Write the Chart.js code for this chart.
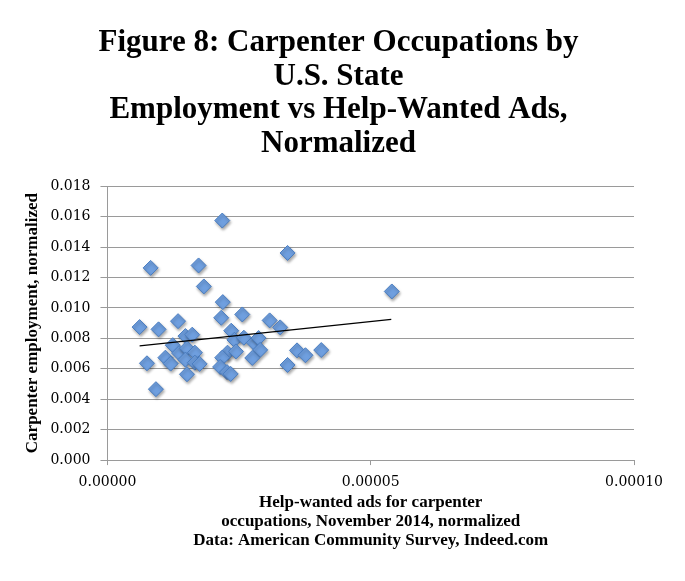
<!DOCTYPE html>
<html>
<head>
<meta charset="utf-8">
<title>Figure 8: Carpenter Occupations by U.S. State</title>
<script src="https://cdn.jsdelivr.net/npm/chart.js@4.4.0/dist/chart.umd.min.js"></script>
<style>
    html, body { margin: 0; padding: 0; background: #ffffff; }
    #wrap { position: relative; width: 685px; height: 581px; }
</style>
</head>
<body>
<div id="wrap"><canvas id="scatter-chart" width="685" height="581"></canvas></div>
<script>
// Help-wanted ads per state (normalized)
const adsNormalized = [
    6.1e-6, 7.5e-6, 8.2e-6, 9.2e-6, 9.7e-6,
    1.10e-5, 1.20e-5, 1.24e-5, 1.34e-5, 1.36e-5,
    1.48e-5, 1.61e-5, 1.51e-5, 1.66e-5, 1.48e-5,
    1.66e-5, 1.75e-5, 1.51e-5, 1.73e-5, 1.83e-5,
    2.18e-5, 2.19e-5, 2.16e-5, 2.56e-5, 2.35e-5,
    2.41e-5, 2.59e-5, 2.28e-5, 2.44e-5, 2.18e-5,
    2.14e-5, 2.27e-5, 2.34e-5, 2.78e-5, 2.87e-5,
    2.90e-5, 2.75e-5, 3.08e-5, 3.28e-5, 3.42e-5,
    3.42e-5, 3.60e-5, 3.76e-5, 4.06e-5, 5.40e-5
];

// Carpenter employment per state (normalized)
const employmentNormalized = [
    0.00874, 0.00636, 0.01263, 0.00466, 0.00859,
    0.00673, 0.00634, 0.00755, 0.00913, 0.00703,
    0.00815, 0.00824, 0.00735, 0.00706, 0.00660,
    0.00640, 0.00632, 0.00564, 0.01279, 0.01141,
    0.01574, 0.01038, 0.00935, 0.00957, 0.00850,
    0.00790, 0.00804, 0.00706, 0.00714, 0.00673,
    0.00612, 0.00578, 0.00566, 0.00771, 0.00802,
    0.00724, 0.00671, 0.00918, 0.00872, 0.01361,
    0.00625, 0.00721, 0.00689, 0.00723, 0.01108
];

// Linear trendline end points as drawn
const trendX = [6.1e-6, 5.39e-5];
const trendY = [0.00750, 0.00925];

// Axis ranges / tick steps
const xTickStep = 0.00005;
const xMax = 0.0001;
const yTickStep = 0.002;
const yMax = 0.018;

const titleLines = [
    'Figure 8: Carpenter Occupations by',
    'U.S. State',
    'Employment vs Help-Wanted Ads,',
    'Normalized'
];
const xTitleLines = [
    'Help-wanted ads for carpenter',
    'occupations, November 2014, normalized',
    'Data: American Community Survey, Indeed.com'
];
const yTitle = 'Carpenter employment, normalized';

const COLORS = {
    marker: '#6f9fdf',
    markerBorder: '#4a7dc0',
    trend: '#000000',
    grid: '#9a9a9a',
    text: '#000000'
};

const SERIF = "'Liberation Serif', 'DejaVu Serif', serif";
const TICK_FONT = { family: "'DejaVu Serif', serif", size: 14 };

// soft drop shadow under the diamonds, like the original
const markerShadow = {
    id: 'markerShadow',
    beforeDatasetDraw(chart, args) {
        if (args.index !== 1) return;
        const c = chart.ctx;
        c.save();
        c.shadowColor = 'rgba(0,0,0,0.35)';
        c.shadowBlur = 3;
        c.shadowOffsetX = 1;
        c.shadowOffsetY = 2;
    },
    afterDatasetDraw(chart, args) {
        if (args.index !== 1) return;
        chart.ctx.restore();
    }
};

const points = adsNormalized.map((x, i) => ({ x: x, y: employmentNormalized[i] }));
const trend = trendX.map((x, i) => ({ x: x, y: trendY[i] }));

new Chart(document.getElementById('scatter-chart').getContext('2d'), {
    type: 'scatter',
    data: {
        datasets: [
            {
                label: 'Trend',
                type: 'line',
                data: trend,
                borderColor: COLORS.trend,
                borderWidth: 1.2,
                pointRadius: 0,
                fill: false,
                order: 0
            },
            {
                label: 'States',
                data: points,
                pointStyle: 'rectRot',
                pointRadius: 7.5,
                pointBackgroundColor: COLORS.marker,
                pointBorderColor: COLORS.markerBorder,
                pointBorderWidth: 1,
                order: 1
            }
        ]
    },
    options: {
        responsive: false,
        animation: false,
        devicePixelRatio: 1,
        layout: {
            padding: { left: 22, right: 30, top: 6, bottom: 31 }
        },
        plugins: {
            legend: { display: false },
            tooltip: { enabled: false },
            title: {
                display: true,
                text: titleLines,
                color: COLORS.text,
                font: { family: SERIF, size: 31, weight: 'bold', lineHeight: 1.09 },
                padding: { top: 20, bottom: 25 }
            }
        },
        scales: {
            x: {
                type: 'linear',
                min: 0,
                max: xMax,
                grid: {
                    drawOnChartArea: false,
                    drawTicks: true,
                    tickLength: 5,
                    color: COLORS.grid
                },
                border: { color: COLORS.grid },
                ticks: {
                    stepSize: xTickStep,
                    color: COLORS.text,
                    font: TICK_FONT,
                    padding: 9,
                    maxRotation: 0,
                    callback: v => v.toFixed(5)
                },
                title: {
                    display: true,
                    text: xTitleLines,
                    color: COLORS.text,
                    font: { family: SERIF, size: 17, weight: 'bold', lineHeight: 1.12 },
                    padding: { top: -7, bottom: 0 }
                }
            },
            y: {
                min: 0,
                max: yMax,
                grid: {
                    drawTicks: true,
                    tickLength: 7,
                    color: COLORS.grid
                },
                border: { color: COLORS.grid },
                ticks: {
                    stepSize: yTickStep,
                    color: COLORS.text,
                    font: TICK_FONT,
                    padding: 10,
                    callback: v => v.toFixed(3)
                },
                title: {
                    display: true,
                    text: yTitle,
                    color: COLORS.text,
                    font: { family: SERIF, size: 17, weight: 'bold', lineHeight: 1.2 },
                    padding: { top: 0, bottom: -2 }
                }
            },
            // empty right-hand spacer so the main title centres like the original
            spacer: {
                type: 'linear',
                position: 'right',
                display: true,
                grid: { display: false },
                border: { display: false },
                ticks: { display: false },
                afterFit(scale) { scale.width = 21; }
            }
        }
    },
    plugins: [markerShadow]
});
</script>
</body>
</html>
